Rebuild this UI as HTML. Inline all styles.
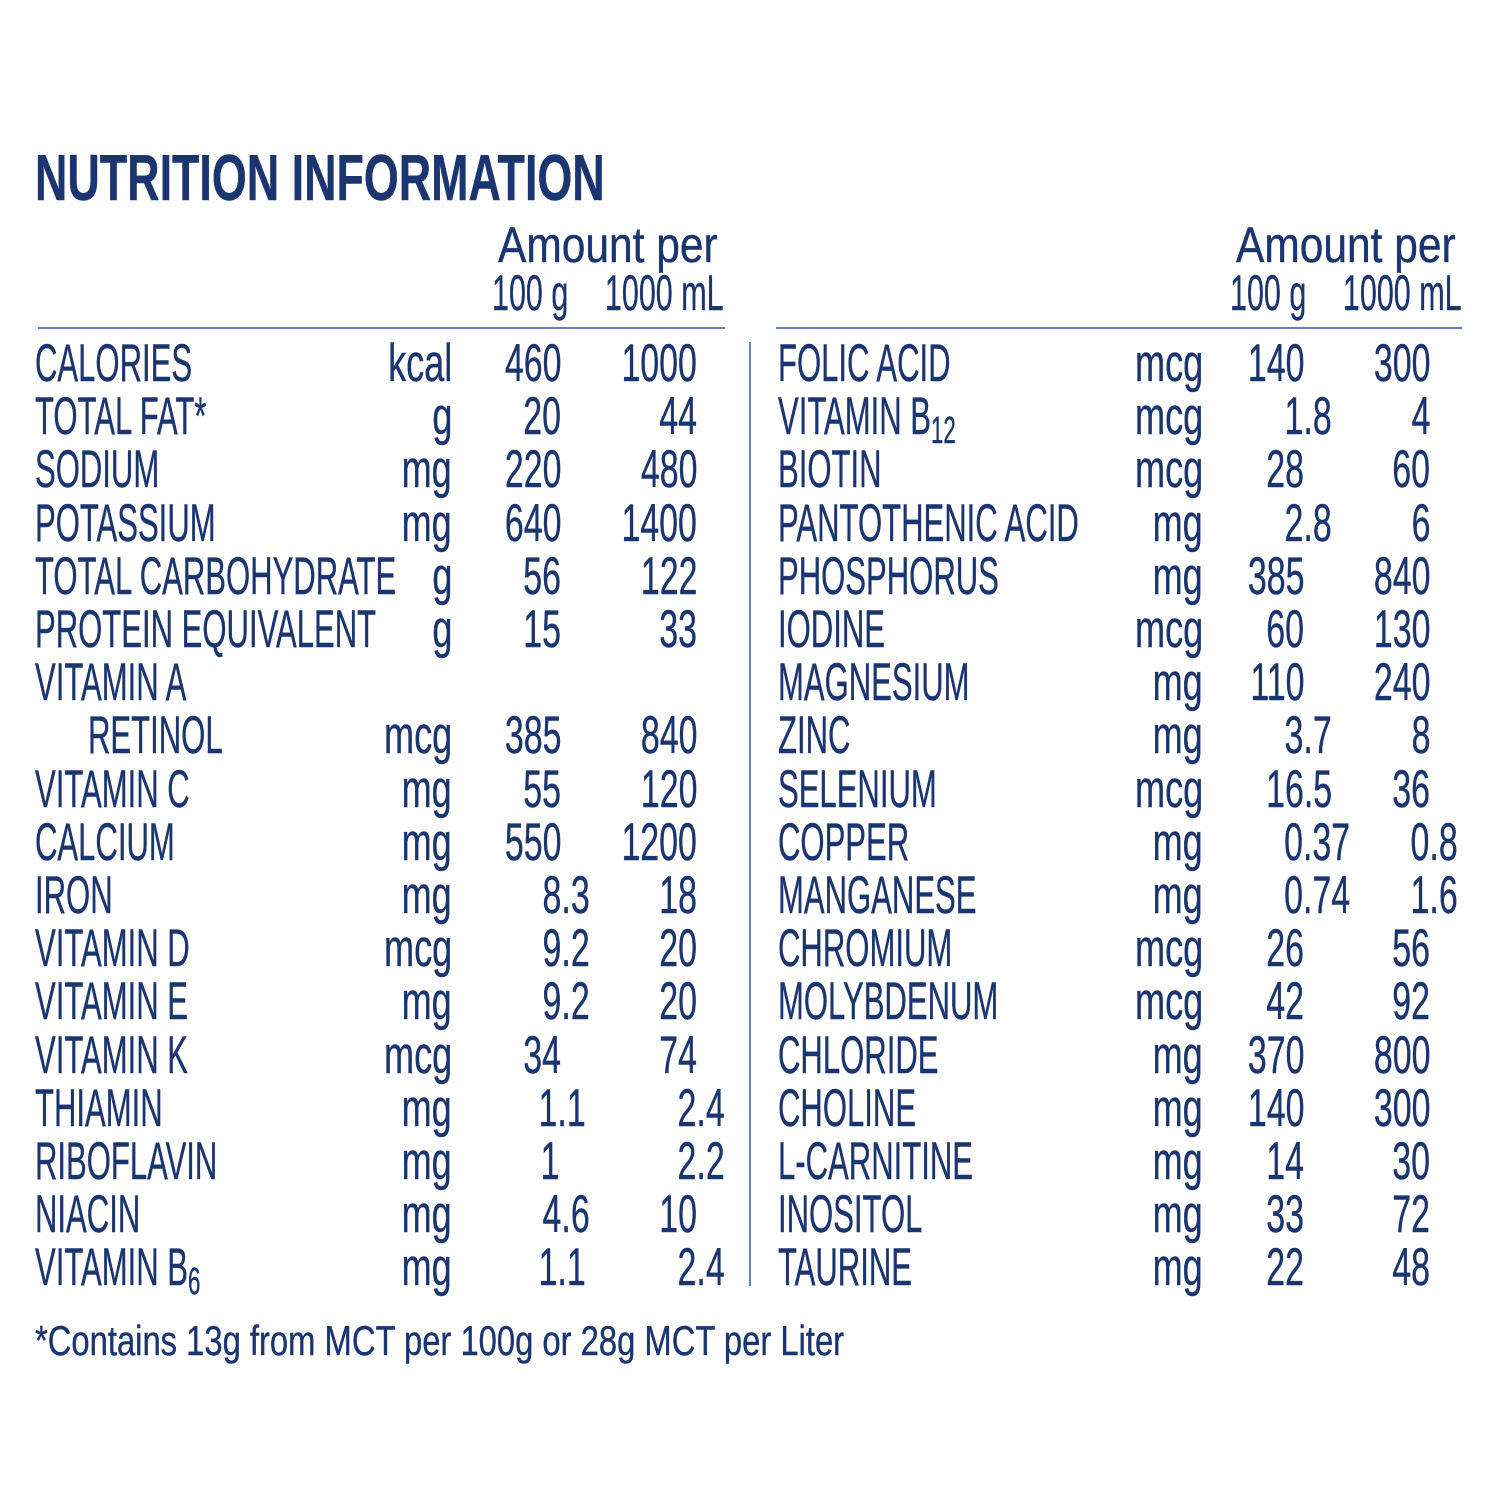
<!DOCTYPE html>
<html><head><meta charset="utf-8"><style>
body{margin:0;width:1500px;height:1500px;background:#fff;position:relative;overflow:hidden;font-family:"Liberation Sans",sans-serif;color:#1a3570}
div.t{position:absolute;white-space:nowrap;font-size:53px;line-height:53px;-webkit-text-stroke:0.4px #1a3570}
.n{transform:scaleX(.586);transform-origin:0 0}
.u{transform:scaleX(.68);transform-origin:100% 0}
.v{transform:scaleX(.64);transform-origin:100% 0}
sub{font-size:38px;vertical-align:-9px;line-height:0}
.hl{position:absolute;height:2px;background:#6a80b0}
</style></head><body>
<div class="t" style="left:35px;top:145px;font-size:65px;line-height:65px;font-weight:bold;transform:scaleX(.69);transform-origin:0 0">NUTRITION INFORMATION</div>

<div class="t" style="left:498px;top:220px;font-size:50px;line-height:50px;transform:scaleX(.85);transform-origin:0 0">Amount per</div>
<div class="t" style="left:492px;top:268px;font-size:50px;line-height:50px;transform:scaleX(.61);transform-origin:0 0">100 g</div>
<div class="t" style="right:776px;top:268px;font-size:50px;line-height:50px;transform:scaleX(.61);transform-origin:100% 0">1000 mL</div>
<div class="t" style="left:1236px;top:220px;font-size:50px;line-height:50px;transform:scaleX(.85);transform-origin:0 0">Amount per</div>
<div class="t" style="left:1230px;top:268px;font-size:50px;line-height:50px;transform:scaleX(.61);transform-origin:0 0">100 g</div>
<div class="t" style="right:38px;top:268px;font-size:50px;line-height:50px;transform:scaleX(.61);transform-origin:100% 0">1000 mL</div>

<div class="hl" style="left:38px;top:327px;width:687px"></div>
<div class="hl" style="left:776px;top:327px;width:686px"></div>
<div class="hl" style="left:749px;top:342px;width:2px;height:944px"></div>

<!-- LEFT -->
<div class="t n" style="left:35px;top:337px">CALORIES</div><div class="t u" style="right:1048px;top:337px">kcal</div><div class="t v" style="right:939px;top:337px">460</div><div class="t v" style="right:803px;top:337px">1000</div>
<div class="t n" style="left:35px;top:390px">TOTAL FAT*</div><div class="t u" style="right:1048px;top:390px">g</div><div class="t v" style="right:939px;top:390px">20</div><div class="t v" style="right:803px;top:390px">44</div>
<div class="t n" style="left:35px;top:443px">SODIUM</div><div class="t u" style="right:1048px;top:443px">mg</div><div class="t v" style="right:939px;top:443px">220</div><div class="t v" style="right:803px;top:443px">480</div>
<div class="t n" style="left:35px;top:497px">POTASSIUM</div><div class="t u" style="right:1048px;top:497px">mg</div><div class="t v" style="right:939px;top:497px">640</div><div class="t v" style="right:803px;top:497px">1400</div>
<div class="t n" style="left:35px;top:550px">TOTAL CARBOHYDRATE</div><div class="t u" style="right:1048px;top:550px">g</div><div class="t v" style="right:939px;top:550px">56</div><div class="t v" style="right:803px;top:550px">122</div>
<div class="t n" style="left:35px;top:603px">PROTEIN EQUIVALENT</div><div class="t u" style="right:1048px;top:603px">g</div><div class="t v" style="right:939px;top:603px">15</div><div class="t v" style="right:803px;top:603px">33</div>
<div class="t n" style="left:35px;top:656px">VITAMIN A</div>
<div class="t n" style="left:88px;top:709px">RETINOL</div><div class="t u" style="right:1048px;top:709px">mcg</div><div class="t v" style="right:939px;top:709px">385</div><div class="t v" style="right:803px;top:709px">840</div>
<div class="t n" style="left:35px;top:763px">VITAMIN C</div><div class="t u" style="right:1048px;top:763px">mg</div><div class="t v" style="right:939px;top:763px">55</div><div class="t v" style="right:803px;top:763px">120</div>
<div class="t n" style="left:35px;top:816px">CALCIUM</div><div class="t u" style="right:1048px;top:816px">mg</div><div class="t v" style="right:939px;top:816px">550</div><div class="t v" style="right:803px;top:816px">1200</div>
<div class="t n" style="left:35px;top:869px">IRON</div><div class="t u" style="right:1048px;top:869px">mg</div><div class="t v" style="right:910px;top:869px">8.3</div><div class="t v" style="right:803px;top:869px">18</div>
<div class="t n" style="left:35px;top:922px">VITAMIN D</div><div class="t u" style="right:1048px;top:922px">mcg</div><div class="t v" style="right:910px;top:922px">9.2</div><div class="t v" style="right:803px;top:922px">20</div>
<div class="t n" style="left:35px;top:975px">VITAMIN E</div><div class="t u" style="right:1048px;top:975px">mg</div><div class="t v" style="right:910px;top:975px">9.2</div><div class="t v" style="right:803px;top:975px">20</div>
<div class="t n" style="left:35px;top:1029px">VITAMIN K</div><div class="t u" style="right:1048px;top:1029px">mcg</div><div class="t v" style="right:939px;top:1029px">34</div><div class="t v" style="right:803px;top:1029px">74</div>
<div class="t n" style="left:35px;top:1082px">THIAMIN</div><div class="t u" style="right:1048px;top:1082px">mg</div><div class="t v" style="right:914px;top:1082px">1.1</div><div class="t v" style="right:775px;top:1082px">2.4</div>
<div class="t n" style="left:35px;top:1135px">RIBOFLAVIN</div><div class="t u" style="right:1048px;top:1135px">mg</div><div class="t v" style="right:941px;top:1135px">1</div><div class="t v" style="right:775px;top:1135px">2.2</div>
<div class="t n" style="left:35px;top:1188px">NIACIN</div><div class="t u" style="right:1048px;top:1188px">mg</div><div class="t v" style="right:910px;top:1188px">4.6</div><div class="t v" style="right:803px;top:1188px">10</div>
<div class="t n" style="left:35px;top:1241px">VITAMIN B<sub>6</sub></div><div class="t u" style="right:1048px;top:1241px">mg</div><div class="t v" style="right:914px;top:1241px">1.1</div><div class="t v" style="right:775px;top:1241px">2.4</div>

<!-- RIGHT -->
<div class="t n" style="left:778px;top:337px">FOLIC ACID</div><div class="t u" style="right:297px;top:337px">mcg</div><div class="t v" style="right:196px;top:337px">140</div><div class="t v" style="right:70px;top:337px">300</div>
<div class="t n" style="left:778px;top:390px">VITAMIN B<sub>12</sub></div><div class="t u" style="right:297px;top:390px">mcg</div><div class="t v" style="right:168px;top:390px">1.8</div><div class="t v" style="right:70px;top:390px">4</div>
<div class="t n" style="left:778px;top:443px">BIOTIN</div><div class="t u" style="right:297px;top:443px">mcg</div><div class="t v" style="right:196px;top:443px">28</div><div class="t v" style="right:70px;top:443px">60</div>
<div class="t n" style="left:778px;top:497px">PANTOTHENIC ACID</div><div class="t u" style="right:297px;top:497px">mg</div><div class="t v" style="right:168px;top:497px">2.8</div><div class="t v" style="right:70px;top:497px">6</div>
<div class="t n" style="left:778px;top:550px">PHOSPHORUS</div><div class="t u" style="right:297px;top:550px">mg</div><div class="t v" style="right:196px;top:550px">385</div><div class="t v" style="right:70px;top:550px">840</div>
<div class="t n" style="left:778px;top:603px">IODINE</div><div class="t u" style="right:297px;top:603px">mcg</div><div class="t v" style="right:196px;top:603px">60</div><div class="t v" style="right:70px;top:603px">130</div>
<div class="t n" style="left:778px;top:656px">MAGNESIUM</div><div class="t u" style="right:297px;top:656px">mg</div><div class="t v" style="right:196px;top:656px">110</div><div class="t v" style="right:70px;top:656px">240</div>
<div class="t n" style="left:778px;top:709px">ZINC</div><div class="t u" style="right:297px;top:709px">mg</div><div class="t v" style="right:168px;top:709px">3.7</div><div class="t v" style="right:70px;top:709px">8</div>
<div class="t n" style="left:778px;top:763px">SELENIUM</div><div class="t u" style="right:297px;top:763px">mcg</div><div class="t v" style="right:168px;top:763px">16.5</div><div class="t v" style="right:70px;top:763px">36</div>
<div class="t n" style="left:778px;top:816px">COPPER</div><div class="t u" style="right:297px;top:816px">mg</div><div class="t v" style="right:150px;top:816px">0.37</div><div class="t v" style="right:42px;top:816px">0.8</div>
<div class="t n" style="left:778px;top:869px">MANGANESE</div><div class="t u" style="right:297px;top:869px">mg</div><div class="t v" style="right:150px;top:869px">0.74</div><div class="t v" style="right:42px;top:869px">1.6</div>
<div class="t n" style="left:778px;top:922px">CHROMIUM</div><div class="t u" style="right:297px;top:922px">mcg</div><div class="t v" style="right:196px;top:922px">26</div><div class="t v" style="right:70px;top:922px">56</div>
<div class="t n" style="left:778px;top:975px">MOLYBDENUM</div><div class="t u" style="right:297px;top:975px">mcg</div><div class="t v" style="right:196px;top:975px">42</div><div class="t v" style="right:70px;top:975px">92</div>
<div class="t n" style="left:778px;top:1029px">CHLORIDE</div><div class="t u" style="right:297px;top:1029px">mg</div><div class="t v" style="right:196px;top:1029px">370</div><div class="t v" style="right:70px;top:1029px">800</div>
<div class="t n" style="left:778px;top:1082px">CHOLINE</div><div class="t u" style="right:297px;top:1082px">mg</div><div class="t v" style="right:196px;top:1082px">140</div><div class="t v" style="right:70px;top:1082px">300</div>
<div class="t n" style="left:778px;top:1135px">L-CARNITINE</div><div class="t u" style="right:297px;top:1135px">mg</div><div class="t v" style="right:196px;top:1135px">14</div><div class="t v" style="right:70px;top:1135px">30</div>
<div class="t n" style="left:778px;top:1188px">INOSITOL</div><div class="t u" style="right:297px;top:1188px">mg</div><div class="t v" style="right:196px;top:1188px">33</div><div class="t v" style="right:70px;top:1188px">72</div>
<div class="t n" style="left:778px;top:1241px">TAURINE</div><div class="t u" style="right:297px;top:1241px">mg</div><div class="t v" style="right:196px;top:1241px">22</div><div class="t v" style="right:70px;top:1241px">48</div>

<div class="t" style="left:35px;top:1320px;font-size:42px;line-height:42px;transform:scaleX(.78);transform-origin:0 0">*Contains 13g from MCT per 100g or 28g MCT per Liter</div>
</body></html>
